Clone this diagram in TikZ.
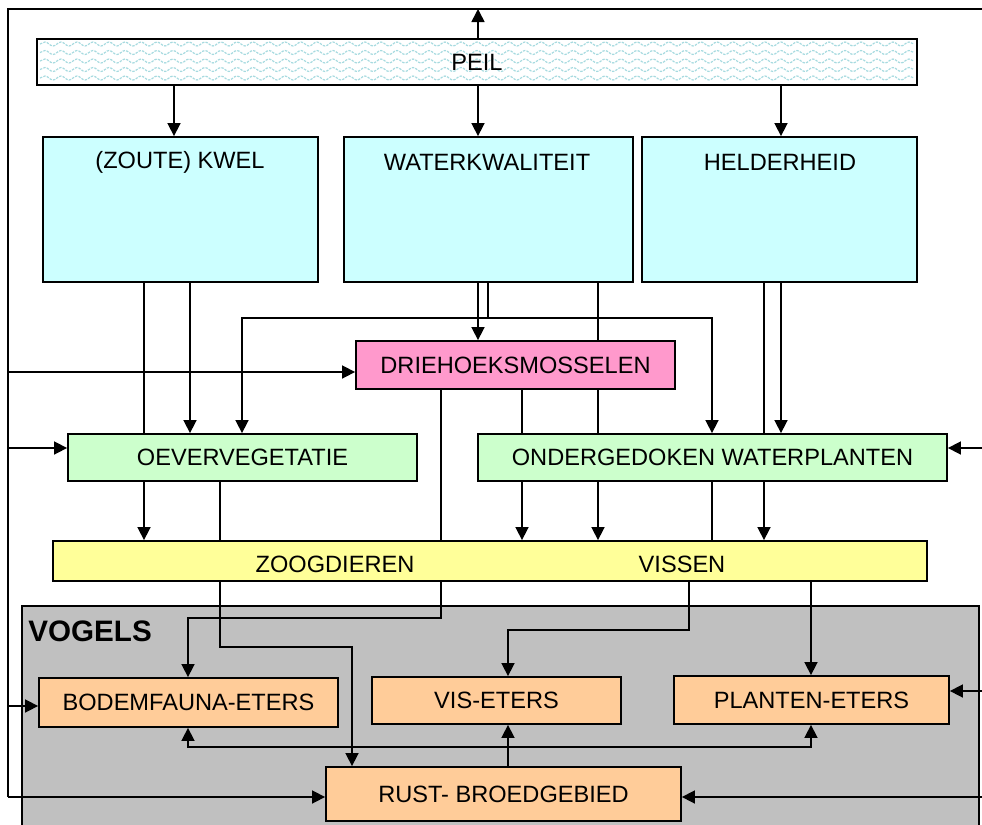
\documentclass[tikz,border=0pt]{standalone}
\usepackage{fontspec}
\setmainfont{Liberation Sans}
\usepackage{xcolor}
\usetikzlibrary{arrows.meta}
\usetikzlibrary{decorations.pathmorphing}
\definecolor{cyanbox}{HTML}{CCFFFF}
\definecolor{pinkbox}{HTML}{FF99CC}
\definecolor{greenbox}{HTML}{CCFFCC}
\definecolor{yellowbox}{HTML}{FFFF99}
\definecolor{orangebox}{HTML}{FFCC99}
\definecolor{greyzone}{HTML}{C0C0C0}
\definecolor{wavecol}{HTML}{A6DADF}
\pgfdeclarelayer{back}
\pgfdeclarelayer{wires}
\pgfsetlayers{back,wires,main}
\tikzset{box/.style={draw, line width=0.9pt, inner sep=0pt, font={\fontsize{11.8}{13}\selectfont}},
 dims/.style 2 args={minimum width=#1pt, minimum height=#2pt},
 peilbox/.style={box},
 factor/.style={box, fill=cyanbox},
 mossel/.style={box, fill=pinkbox},
 plantbox/.style={box, fill=greenbox},
 dierbox/.style={box, fill=yellowbox},
 eters/.style={box, fill=orangebox},
 zone/.style={box, fill=greyzone},
 txt/.style={inner sep=0pt, font={\fontsize{11.8}{13}\selectfont}},
 zonetxt/.style={inner sep=0pt, anchor=west, font={\bfseries\fontsize{14.8}{17}\selectfont}},
 link/.style={line width=0.8pt},
 arr/.style={link, -{Triangle[length=6.5pt, width=6.5pt]}},
 wave/.style={draw=wavecol, line width=0.6pt, dash pattern=on 1.2pt off 0.6pt, decorate, decoration={snake, segment length=8pt, amplitude=1pt}},
 }

\begin{document}
\begin{tikzpicture}[x=0.5pt, y=-0.5pt]
    \useasboundingbox (0,0) rectangle (982,825);
    \begin{pgfonlayer}{back}
        \node[zone, dims={478.5}{112}] (vogels) at (500.5,718) {};
    \end{pgfonlayer}
    \node[peilbox, dims={440}{23}] (peil) at (477,62) {PEIL};
    \node[factor, dims={137.5}{72.5}] (kwel) at (180.5,209.5) {};
    \node[factor, dims={144.5}{72.5}] (wkw) at (488.5,209.5) {};
    \node[factor, dims={137.5}{72.5}] (held) at (779.5,209.5) {};
    \node[txt] (kwelt) at (180,162) {(ZOUTE) KWEL};
    \node[txt] (wkwt) at (487,162) {WATERKWALITEIT};
    \node[txt] (heldt) at (780,162) {HELDERHEID};
    \node[mossel, dims={159.5}{24}] (dri) at (515.5,365) {DRIEHOEKSMOSSELEN};
    \node[plantbox, dims={174.5}{23.5}] (oever) at (242.5,457.5) {OEVERVEGETATIE};
    \node[plantbox, dims={234.5}{23.5}] (onder) at (712.5,457.5) {ONDERGEDOKEN WATERPLANTEN};
    \node[dierbox, dims={437}{20}] (dier) at (490,561) {};
    \node[txt] (zoog) at (335,564) {ZOOGDIEREN};
    \node[txt] (vissen) at (682,564) {VISSEN};
    \node[zonetxt] (vogelst) at (28,631) {VOGELS};
    \node[eters, dims={149.5}{24.5}] (bodem) at (188.5,702.5) {BODEMFAUNA-ETERS};
    \node[eters, dims={124.5}{23.5}] (vis) at (496.5,700.5) {VIS-ETERS};
    \node[eters, dims={137.5}{24}] (plant) at (811.5,700) {PLANTEN-ETERS};
    \node[eters, dims={177.5}{27}] (rust) at (503.5,794) {RUST- BROEDGEBIED};
    \coordinate (topl) at (8,9);
    \coordinate (topr) at (992,9);
    \coordinate (botl) at (8,797);
    \coordinate (botr) at (992,797);
    \begin{pgfonlayer}{wires}
        \foreach \y in {44,52.5,...,79}
            \draw[wave] (40,\y) -- (914,\y);
        \draw[link] (botl) -- (topl) -- (topr) -- (botr);
        \draw[arr] (478,0 |- peil.north) -- (478,0 |- topl);
        \draw[arr] (174,0 |- peil.south) -- (174,0 |- kwel.north);
        \draw[arr] (478,0 |- peil.south) -- (478,0 |- wkw.north);
        \draw[arr] (781,0 |- peil.south) -- (781,0 |- held.north);
        \draw[arr] (topl |- 0,372) -- (dri.west |- 0,372);
        \draw[arr] (topl |- 0,448) -- (oever.west |- 0,448);
        \draw[arr] (topl |- 0,706) -- (bodem.west |- 0,706);
        \draw[arr] (botl) -- (rust.west |- botl);
        \draw[arr] (topr |- 0,448) -- (onder.east |- 0,448);
        \draw[arr] (topr |- 0,691) -- (plant.east |- 0,691);
        \draw[arr] (botr) -- (rust.east |- botr);
        \draw[arr] (144,0 |- kwel.south) -- (144,0 |- dier.north);
        \draw[arr] (190,0 |- kwel.south) -- (190,0 |- oever.north);
        \draw[arr] (478,0 |- wkw.south) -- (478,0 |- dri.north);
        \draw[arr] (488,0 |- wkw.south) |- (242,318) -- (242,0 |- oever.north);
        \draw[arr] (488,318) -| (712,0 |- onder.north);
        \draw[arr] (598,0 |- wkw.south) -- (598,0 |- dier.north);
        \draw[arr] (781,0 |- held.south) -- (781,0 |- onder.north);
        \draw[arr] (764,0 |- held.south) -- (764,0 |- dier.north);
        \draw[arr] (522,0 |- dri.south) -- (522,0 |- dier.north);
        \draw[arr] (441,0 |- dri.south) |- (188,618) -- (188,0 |- bodem.north);
        \draw[arr] (220,0 |- oever.south) |- (352,647) -- (352,0 |- rust.north);
        \draw[link] (712,0 |- onder.south) -- (712,0 |- dier.north);
        \draw[arr] (689,0 |- dier.south) |- (508,630) -- (508,0 |- vis.north);
        \draw[arr] (811,0 |- dier.south) -- (811,0 |- plant.north);
        \draw[arr] (508,0 |- rust.north) -- (508,0 |- vis.south);
        \draw[arr] (508,747) -| (188,0 |- bodem.south);
        \draw[arr] (508,747) -| (811,0 |- plant.south);
    \end{pgfonlayer}
\end{tikzpicture}
\end{document}
